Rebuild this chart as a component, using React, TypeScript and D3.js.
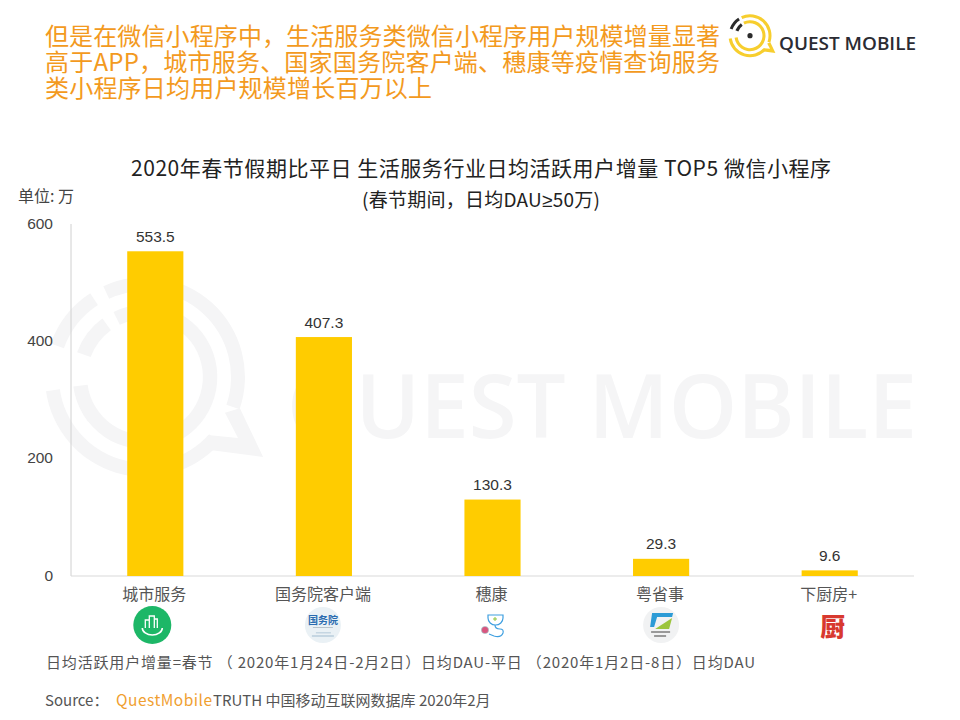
import React from "react";
import * as d3 from "d3";

const categories = ["城市服务", "国务院客户端", "穗康", "粤省事", "下厨房+"];
const values = [553.5, 407.3, 130.3, 29.3, 9.6];
const yTicks = [0, 200, 400, 600];
const headline = [
  "但是在微信小程序中，生活服务类微信小程序用户规模增量显著",
  "高于APP，城市服务、国家国务院客户端、穗康等疫情查询服务",
  "类小程序日均用户规模增长百万以上",
];
const headlineWidths = [675, 675, 387];
const chartTitle = "2020年春节假期比平日 生活服务行业日均活跃用户增量 TOP5 微信小程序";
const subtitleStart = "(春节期间，日均DAU";
const subtitleEnd = "50万)";
const unitLabel = "单位: 万";
const noteText = "日均活跃用户增量=春节 （ 2020年1月24日-2月2日）日均DAU-平日 （2020年1月2日-8日）日均DAU";

const FONT = "'Noto Sans CJK SC', 'Open Sans', sans-serif";
const NUM = "'Liberation Sans', Arial, sans-serif";
const BAR = "#FFCC00";

const x = d3.scaleBand<string>().domain(categories).range([71, 914]).paddingInner(0.667).paddingOuter(0.3335);
const y = d3.scaleLinear().domain([0, 600]).range([576, 224]);

function ring(r: number, w: number, a0: number, a1: number) {
  return d3.arc()({ innerRadius: r - w / 2, outerRadius: r + w / 2, startAngle: a0, endAngle: a1 }) as string;
}

function LogoMark({ cx, cy, s, main, accent }: { cx: number; cy: number; s: number; main: string; accent: string }) {
  return (
    <g transform={`translate(${cx},${cy}) scale(${s})`}>
      <path d={ring(20, 3, -0.43, 1.9)} fill={main} />
      <path d={ring(20, 3, 2.3, 4.57)} fill={main} />
      <path d={ring(14, 3.1, -0.45, 4.58)} fill={main} />
      <path d="M 20.4 6.7 L 25.4 17.2 L 14 15.7 L 14 12.5 L 20 13.1 L 17.2 7.7 Z" fill={main} />
      <path d={ring(20, 3, -1.23, -0.58)} fill={accent} />
      <path d={ring(14, 3.1, -1.22, -0.63)} fill={accent} />
    </g>
  );
}

function Icons() {
  const cx = categories.map((c) => (x(c) as number) + x.bandwidth() / 2);
  return (
    <g>
      <circle cx={cx[0] - 3} cy={625} r={19} fill="#1DB767" />
      <path d={`M ${cx[0] - 13} 628 a 10 7 0 0 0 20 0`} fill="none" stroke="#fff" strokeWidth={1.6} />
      <path d={`M ${cx[0] - 10} 628 v -8 h 4 v -4 h 5 v 3 h 3 v 9 M ${cx[0] - 6} 628 v -8 M ${cx[0] - 1} 628 v -9`} fill="none" stroke="#fff" strokeWidth={1.3} />

      <circle cx={cx[1] - 1} cy={625} r={18} fill="#EAF1F5" />
      <text x={cx[1] - 1} y={624} textAnchor="middle" fontSize={10} fontWeight={700} fill="#2B6CB0">国务院</text>
      <rect x={cx[1] - 11} y={627} width={20} height={1} fill="#B8C4CC" />
      <rect x={cx[1] - 8} y={632} width={15} height={1.5} fill="#C5D6E2" />
      <rect x={cx[1] - 12} y={635} width={22} height={2} fill="#C5D6E2" />

      <g fill="none" stroke="#3E9FE0" strokeWidth={1.2}>
        <path d="M 488 615 h 15 v 3 a 7.5 7 0 0 1 -15 0 z" />
        <path d="M 495 625 q 0 4 5 4 q 4 0 3 4 q -2 5 -9 3 l -5 -2" />
      </g>
      <path d="M 495 617 v 4 M 493 619 h 4" stroke="#8DC63F" strokeWidth={1} />
      <circle cx={485} cy={630} r={3.6} fill="#D9557F" stroke="#9CC" strokeWidth={0.6} />

      <circle cx={cx[3]} cy={625} r={18} fill="#F1F2F3" />
      <path d={`M ${cx[3] - 9} 613 h 21 l -1 4 h -15 l -3 10 h -4 z`} fill="#2C9BD6" />
      <path d={`M ${cx[3] - 6} 629 l 17 -11 l -3 11 z`} fill="#9CC53D" />
      <path d={`M ${cx[3] - 10} 632 h 19 M ${cx[3] - 7} 636 h 12`} stroke="#999" strokeWidth={2} />

      <text x={cx[4] + 3} y={636} textAnchor="middle" fontSize={25} fontWeight={900} fill="#D8392F">厨</text>
    </g>
  );
}

export default function App() {
  return (
    <svg width={960} height={720} style={{ position: "absolute", left: 0, top: 0, background: "#fff" }} fontFamily={FONT}>
      {/* watermark */}
      <LogoMark cx={145} cy={377} s={4.65} main="#F5F5F6" accent="#F5F5F6" />
      <text x={287} y={438} fontSize={88} fontFamily="'Open Sans', sans-serif" fontWeight={600} fill="#F5F5F6" textLength={630} lengthAdjust="spacingAndGlyphs">QUEST MOBILE</text>

      {/* headline */}
      {headline.map((t, i) => (
        <text key={i} x={45} y={45 + i * 26} fontSize={24} fill="#F39A1E" textLength={headlineWidths[i]}>{t}</text>
      ))}

      {/* logo */}
      <LogoMark cx={750} cy={35.7} s={1} main="#F7CE2E" accent="#2B2B2B" />
      <circle cx={750} cy={35.7} r={2.6} fill="#2B2B2B" />
      <text x={779} y={50} fontSize={18.5} fontWeight={600} fontFamily="'Open Sans', sans-serif" fill="#2B2B33" textLength={137} lengthAdjust="spacingAndGlyphs">QUEST MOBILE</text>

      {/* titles */}
      <text x={481} y={176} textAnchor="middle" fontSize={21} fill="#222" textLength={700}>{chartTitle}</text>
      <text x={481} y={207} textAnchor="middle" fontSize={19} fill="#222" textLength={238}>
        {subtitleStart}<tspan fontFamily={NUM}>≥</tspan>{subtitleEnd}
      </text>
      <text x={18} y={202} fontSize={16} fill="#444">{unitLabel}</text>

      {/* axes */}
      <line x1={71} x2={71} y1={224} y2={576} stroke="#D0D0D0" />
      <line x1={71} x2={914} y1={576} y2={576} stroke="#D9D9D9" />
      {yTicks.map((t) => (
        <text key={t} x={53} y={y(t) + 4.5} textAnchor="end" fontSize={15.5} fontFamily={NUM} fill="#444">{t}</text>
      ))}

      {/* bars */}
      {categories.map((c, i) => (
        <g key={c}>
          <rect x={x(c)} y={y(values[i])} width={x.bandwidth()} height={y(0) - y(values[i])} fill={BAR} />
          <text x={(x(c) as number) + x.bandwidth() / 2} y={y(values[i]) - 9.5} textAnchor="middle" fontSize={15.5} fontFamily={NUM} fill="#333">{values[i].toFixed(1)}</text>
          <text x={(x(c) as number) + x.bandwidth() / 2 - 1} y={600} textAnchor="middle" fontSize={16} fill="#555">{c}</text>
        </g>
      ))}
      <Icons />

      {/* notes */}
      <text x={46} y={668} fontSize={15} fill="#555" textLength={709}>{noteText}</text>
      <text x={45} y={706} fontSize={15} fill="#555">Source：</text>
      <text x={116} y={706} fontSize={15.5} fill="#F0A030" textLength={96}>QuestMobile</text>
      <text x={213} y={706} fontSize={15} fill="#555">TRUTH 中国移动互联网数据库 2020年2月</text>
    </svg>
  );
}
